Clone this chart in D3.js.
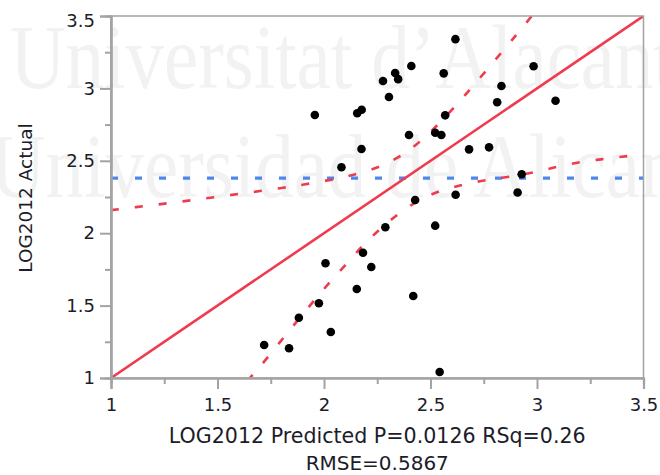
<!DOCTYPE html>
<html>
<head>
<meta charset="utf-8">
<script src="https://cdn.jsdelivr.net/npm/d3@7"></script>
<style>
  html, body { margin: 0; padding: 0; background: #fff; }
  svg { display: block; }
</style>
</head>
<body>
<svg id="chart" width="660" height="475"></svg>
<script>
// ---- data ----
const predicted = [1.719, 1.836, 1.882, 1.976, 2.032, 2.007, 2.154, 2.183, 2.222, 2.419,
  2.543, 2.176, 2.082, 2.428, 2.288, 2.681, 2.775, 2.928, 2.618, 2.909,
  2.522, 1.957, 2.156, 2.177, 2.277, 2.334, 2.348, 2.410, 2.305, 2.399,
  2.617, 2.562, 2.984, 2.833, 2.813, 3.087, 2.569, 2.522, 2.551];
const actual = [1.228, 1.205, 1.416, 1.516, 1.318, 1.792, 1.615, 1.865, 1.767, 1.566,
  1.041, 2.581, 2.455, 2.229, 2.041, 2.579, 2.593, 2.407, 2.266, 2.281,
  2.052, 2.816, 2.828, 2.853, 3.051, 3.106, 3.064, 3.155, 2.941, 2.678,
  3.340, 3.104, 3.153, 3.017, 2.904, 2.915, 2.814, 2.694, 2.678];
const meanActual = 2.38;
const fitX = [1, 3.5];
const fitY = [1, 3.5];
const upperCIx = [1.0, 1.2, 1.4, 1.6, 1.8, 1.9, 2.0, 2.1, 2.2, 2.3, 2.4, 2.5, 2.6, 2.7, 2.8, 2.9, 2.98];
const upperCIy = [2.159, 2.195, 2.232, 2.271, 2.312, 2.335, 2.36, 2.39, 2.429, 2.486, 2.574, 2.70, 2.852, 3.017, 3.19, 3.365, 3.508];
const lowerCIx = [1.64, 1.7, 1.8, 1.9, 2.0, 2.1, 2.2, 2.3, 2.4, 2.5, 2.6, 2.7, 2.8, 2.9, 3.0, 3.1, 3.2, 3.3, 3.4, 3.5];
const lowerCIy = [0.98, 1.08, 1.26, 1.44, 1.615, 1.78, 1.94, 2.075, 2.185, 2.265, 2.315, 2.35, 2.375, 2.397, 2.425, 2.46, 2.49, 2.51, 2.528, 2.545];
const xTicks = [1, 1.5, 2, 2.5, 3, 3.5];
const yTicks = [1, 1.5, 2, 2.5, 3, 3.5];
const xMinor = [1.25, 1.75, 2.25, 2.75, 3.25];
const yMinor = [1.25, 1.75, 2.25, 2.75, 3.25];
const xTitle = ["LOG2012 Predicted P=0.0126 RSq=0.26", "RMSE=0.5867"];
const yTitle = "LOG2012 Actual";
const watermark = ["Universitat d\u2019Alacant", "Universidad de Alicante"];

// ---- layout ----
const svg = d3.select("#chart");
const pLeft = 111, pRight = 643.5, pTop = 16, pBottom = 378;
const x = d3.scaleLinear().domain([1, 3.5]).range([pLeft, pRight]);
const y = d3.scaleLinear().domain([1, 3.5]).range([pBottom, pTop]);

const RED = "#ef3b4e", BLUE = "#4e86ef", AXIS = "#a3a3a3", TEXT = "#1c1c2a";

// watermark
const wm = svg.append("g").attr("fill", "#f2f2f2")
  .style("font-family", "'Liberation Serif', 'DejaVu Serif', serif")
  .style("font-size", "77px");
wm.append("text").attr("transform", "translate(10,88) scale(1,1.17)").text(watermark[0]);
wm.append("text").attr("transform", "translate(-10,197) scale(1,1.17)").text(watermark[1]);

// clip
svg.append("defs").append("clipPath").attr("id", "plotClip")
  .append("rect").attr("x", pLeft).attr("y", pTop).attr("width", pRight - pLeft).attr("height", pBottom - pTop);

const plot = svg.append("g").attr("clip-path", "url(#plotClip)");

// mean line
plot.append("line")
  .attr("x1", x(1)).attr("x2", x(3.5))
  .attr("y1", y(meanActual)).attr("y2", y(meanActual))
  .attr("stroke", BLUE).attr("stroke-width", 3.2).attr("stroke-dasharray", "7,17");

// confidence curves
const line = d3.line().x(d => x(d[0])).y(d => y(d[1])).curve(d3.curveCatmullRom);
plot.append("path").datum(d3.zip(upperCIx, upperCIy)).attr("d", line)
  .attr("fill", "none").attr("stroke", RED).attr("stroke-width", 2.6).attr("stroke-dasharray", "8,16");
plot.append("path").datum(d3.zip(lowerCIx, lowerCIy)).attr("d", line)
  .attr("fill", "none").attr("stroke", RED).attr("stroke-width", 2.6).attr("stroke-dasharray", "8,16");

// fit line
plot.append("path").datum(d3.zip(fitX, fitY)).attr("d", d3.line().x(d => x(d[0])).y(d => y(d[1])))
  .attr("fill", "none").attr("stroke", RED).attr("stroke-width", 2.6);

// points
plot.append("g").selectAll("circle").data(d3.zip(predicted, actual)).join("circle")
  .attr("cx", d => x(d[0])).attr("cy", d => y(d[1])).attr("r", 4.3).attr("fill", "#000");

// frame
svg.append("rect").attr("x", pLeft).attr("y", pTop).attr("width", pRight - pLeft).attr("height", pBottom - pTop)
  .attr("fill", "none").attr("stroke", AXIS).attr("stroke-width", 1.5);

// axes
const xAxis = d3.axisBottom(x).tickValues(xTicks).tickSize(11).tickPadding(9).tickFormat(d3.format("~g"));
const xAxisMinor = d3.axisBottom(x).tickValues(xMinor).tickSize(6).tickFormat("");
const yAxis = d3.axisLeft(y).tickValues(yTicks).tickSize(11).tickPadding(5).tickFormat(d3.format("~g"));
const yAxisMinor = d3.axisLeft(y).tickValues(yMinor).tickSize(6).tickFormat("");

function styleAxis(g) {
  g.select(".domain").attr("stroke", AXIS).attr("stroke-width", 2.2);
  g.selectAll(".tick line").attr("stroke", AXIS).attr("stroke-width", 2);
  g.selectAll(".tick text").attr("fill", TEXT)
    .style("font-family", "'DejaVu Sans', sans-serif").style("font-size", "18px");
}
svg.append("g").attr("transform", `translate(0,${pBottom})`).call(xAxisMinor).call(styleAxis);
svg.append("g").attr("transform", `translate(0,${pBottom})`).call(xAxis).call(styleAxis);
svg.append("g").attr("transform", `translate(${pLeft},0)`).call(yAxisMinor).call(styleAxis);
const yAxisG = svg.append("g").attr("transform", `translate(${pLeft},0)`).call(yAxis).call(styleAxis);
// keep the top label inside the window like the reference
yAxisG.selectAll(".tick text").filter(d => d === 3.5).attr("dy", "0.6em");

// titles
const tf = "'DejaVu Sans', sans-serif";
svg.append("text").attr("x", (pLeft + pRight) / 2).attr("y", 443).attr("text-anchor", "middle")
  .attr("fill", TEXT).style("font-family", tf).style("font-size", "20.6px").text(xTitle[0]);
svg.append("text").attr("x", (pLeft + pRight) / 2).attr("y", 470).attr("text-anchor", "middle")
  .attr("fill", TEXT).style("font-family", tf).style("font-size", "20px").text(xTitle[1]);
svg.append("text").attr("transform", `translate(32,${(pTop + pBottom) / 2 + 1}) rotate(-90)`)
  .attr("text-anchor", "middle").attr("fill", TEXT)
  .style("font-family", tf).style("font-size", "18.5px").text(yTitle);
</script>
</body>
</html>
